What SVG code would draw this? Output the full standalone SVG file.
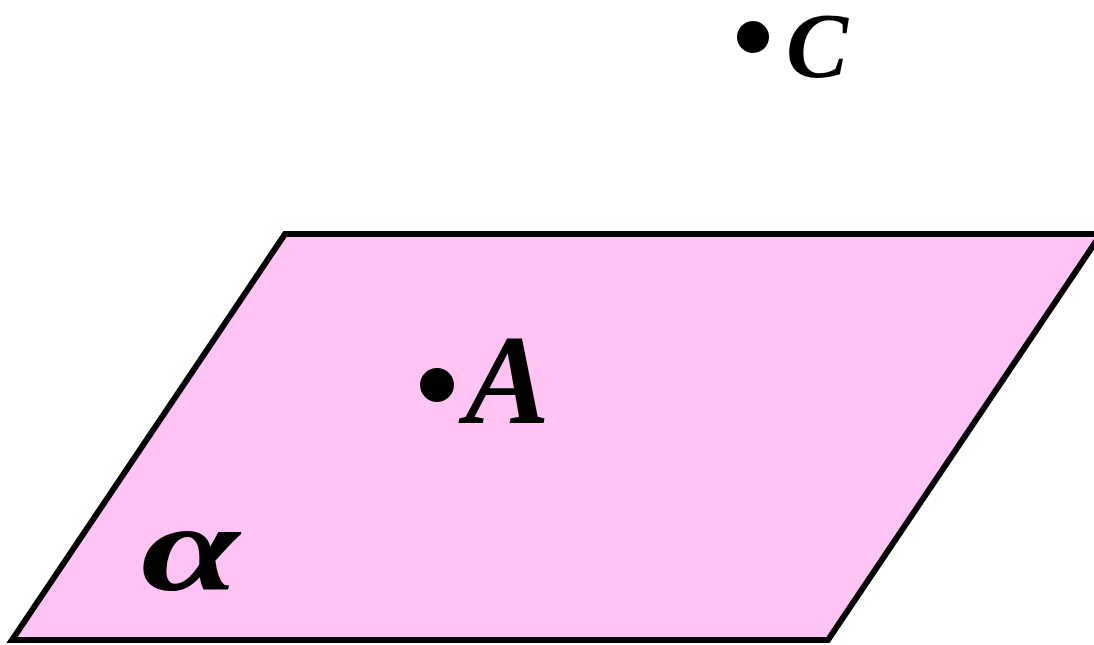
<svg xmlns="http://www.w3.org/2000/svg" width="1094" height="645" viewBox="0 0 1094 645">
<style>
.lbl{font-family:"Liberation Serif","Times New Roman",serif;font-weight:bold;font-style:italic;fill:#000}
</style>
<rect width="1094" height="645" fill="#fff"/>
<g id="plane">
<polygon points="285,234 1101,234 828,640 12,640" fill="#FFC4F3" stroke="#000" stroke-width="6" stroke-linejoin="miter"/>
<text class="lbl" transform="translate(141,590) scale(1.42,1)" x="0" y="0" font-size="125">α</text>
</g>
<g id="pointA">
<circle cx="437" cy="385" r="17" fill="#000"/>
<text class="lbl" x="465" y="423" font-size="127">A</text>
</g>
<g id="pointC">
<circle cx="753" cy="37" r="16" fill="#000"/>
<text class="lbl" x="786" y="77" font-size="93">C</text>
</g>
<g id="connectors"></g>
</svg>
